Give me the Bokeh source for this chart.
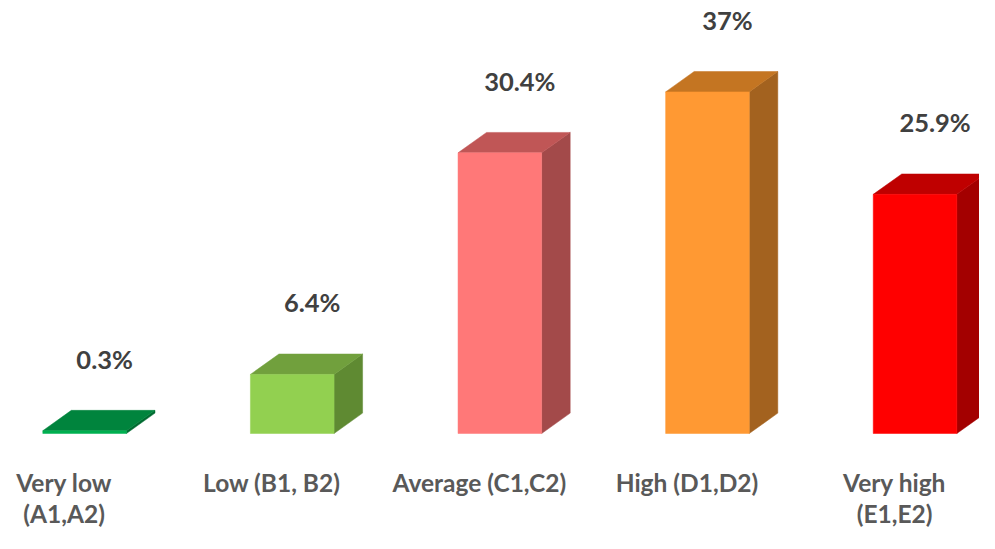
from bokeh.plotting import figure
from bokeh.models import ColumnDataSource, Range1d
from bokeh.core.properties import value
from bokeh.embed import file_html
from bokeh.resources import INLINE

categories = ["Very low\n(A1,A2)", "Low (B1, B2)", "Average (C1,C2)", "High (D1,D2)", "Very high\n(E1,E2)"]
values = [0.3, 6.4, 30.4, 37.0, 25.9]
labels = ["0.3%", "6.4%", "30.4%", "37%", "25.9%"]
front_colors = ["#00B050", "#92D050", "#FF7878", "#FF9933", "#FF0000"]
top_colors = ["#00843D", "#71A03D", "#C05656", "#C47522", "#BF0000"]
side_colors = ["#006A30", "#5F8A32", "#A34A4A", "#A3621F", "#A30000"]

W, H = 979, 533
SX, SY = W / 995.0, H / 549.0
PX_X = 211.0 * SX      # pixels per category
PX_Y = 9.51 * SY       # pixels per percent
x0_px = 85.5 * SX      # frame px of first bar's front centre
base_px = 446.0 * SY   # frame px (from top) of baseline

xs_start = -x0_px / PX_X
ys_end = base_px / PX_Y
ys_start = -(H - base_px) / PX_Y

p = figure(width=W, height=H, output_backend="svg", toolbar_location=None,
           x_range=Range1d(xs_start, xs_start + W / PX_X),
           y_range=Range1d(ys_start, ys_end), min_border=0)
p.axis.visible = False
p.grid.visible = False
p.outline_line_color = None
p.background_fill_color = "white"
p.border_fill_color = "white"

bw = 85 * SX / PX_X
dx = 29 * SX / PX_X
dy = 21 * SY / PX_Y

idx = list(range(len(values)))
lefts = [i - bw / 2 for i in idx]
rights = [i + bw / 2 for i in idx]

# side faces
side_xs = [[r, r + dx, r + dx, r] for r in rights]
side_ys = [[0, dy, v + dy, v] for v in values]
p.patches(side_xs, side_ys, fill_color=side_colors, line_color=side_colors, line_width=0.5)
# top faces
top_xs = [[l, r, r + dx, l + dx] for l, r in zip(lefts, rights)]
top_ys = [[v, v, v + dy, v + dy] for v in values]
p.patches(top_xs, top_ys, fill_color=top_colors, line_color=top_colors, line_width=0.5)
# front faces
src = ColumnDataSource(dict(left=lefts, right=rights, top=values, bottom=[0] * 5,
                            color=front_colors))
p.quad(left="left", right="right", top="top", bottom="bottom", fill_color="color",
       line_color="color", line_width=0.5, source=src)

# value labels
lab = ColumnDataSource(dict(x=idx, y=values, t=labels))
p.text(x="x", y="y", text="t", source=lab, x_offset=20, y_offset=-72,
       text_align="center", text_baseline="middle",
       text_font=value("Lato"), text_font_style="bold", text_font_size="25.5px",
       text_color="#404040")

# category labels
cat = ColumnDataSource(dict(x=idx, y=[0] * 5, t=categories))
p.text(x="x", y="y", text="t", source=cat, x_offset=-20.5, y_offset=34,
       text_align="center", text_baseline="top", text_line_height=1.07,
       text_font=value("Lato"), text_font_style="bold", text_font_size="24.5px",
       text_color="#595959")

open("out.html", "w").write(file_html(p, INLINE))
